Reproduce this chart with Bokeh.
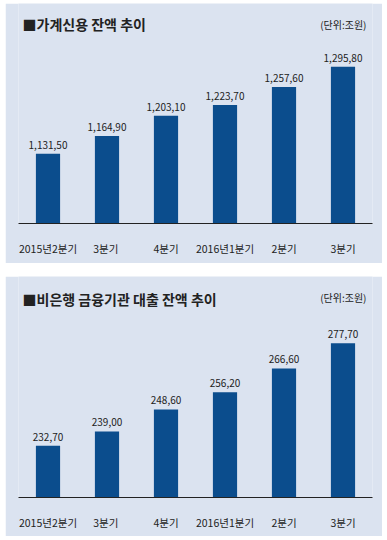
from bokeh.plotting import figure
from bokeh.layouts import column
from bokeh.models import ColumnDataSource, Label
from bokeh.embed import file_html
from bokeh.resources import INLINE
from bokeh.core.properties import value

# ---- data ----
quarters = ["2015년2분기", "3분기 ", "4분기", "2016년1분기", "2분기", "3분기"]
household_credit = [1131.5, 1164.9, 1203.1, 1223.7, 1257.6, 1295.8]
nonbank_loans = [232.7, 239.0, 248.6, 256.2, 266.6, 277.7]
title_top = "■가계신용 잔액 추이"
title_bottom = "■비은행 금융기관 대출 잔액 추이"
unit_text = "(단위:조원)"

BG = "#dbe3f0"
BAR = "#0b4d8d"
TXT = "#222222"
FONT = "Noto Sans CJK KR"


def fmt(v):
    whole, dec = f"{v:,.2f}".split(".")
    return whole + "," + dec


def make_panel(values, title, height, y_start, y_end, frame_h, title_y, unit_y):
    src = ColumnDataSource(dict(x=quarters, top=values, lab=[fmt(v) for v in values]))
    p = figure(x_range=quarters, y_range=(y_start, y_end), width=377, height=height,
               output_backend="svg", toolbar_location=None, y_axis_location=None,
               min_border_left=13, min_border_right=10, min_border_top=0,
               min_border_bottom=height - frame_h)
    p.x_range.range_padding = 0
    p.background_fill_color = BG
    p.border_fill_color = BG
    p.outline_line_color = None
    p.grid.grid_line_color = None
    p.vbar(x="x", top="top", bottom=y_start, width=0.41, source=src,
           fill_color=BAR, line_color=None)
    p.text(x="x", y="top", text="lab", source=src, text_align="center",
           text_baseline="bottom", y_offset=-5, text_font=value(FONT),
           text_font_size="10px", text_color=TXT)
    ax = p.xaxis[0]
    ax.axis_line_color = TXT
    ax.axis_line_width = 1
    ax.major_tick_line_color = None
    ax.minor_tick_line_color = None
    ax.major_label_text_font = FONT
    ax.major_label_text_font_size = "10.5px"
    ax.major_label_text_color = TXT
    ax.major_label_standoff = 11
    p.add_layout(Label(x=4, y=frame_h - title_y, x_units="screen", y_units="screen",
                       text=title, text_font=FONT, text_font_size="14px",
                       text_font_style="bold", text_color=TXT,
                       text_baseline="middle", text_align="left"))
    p.add_layout(Label(x=348, y=frame_h - unit_y, x_units="screen", y_units="screen",
                       text=unit_text, text_font=FONT, text_font_size="10px",
                       text_color=TXT, text_baseline="middle", text_align="right"))
    return p


p1 = make_panel(household_credit, title_top, 260, 1000, 1000 + 220 / 0.53, 220, 20, 21)
p2 = make_panel(nonbank_loans, title_bottom, 260, 210, 210 + 221 / 2.28, 221, 22, 21)

layout = column(p1, p2, spacing=13, margin=(3, 0, 0, 5))
open("out.html", "w").write(file_html(layout, INLINE))
